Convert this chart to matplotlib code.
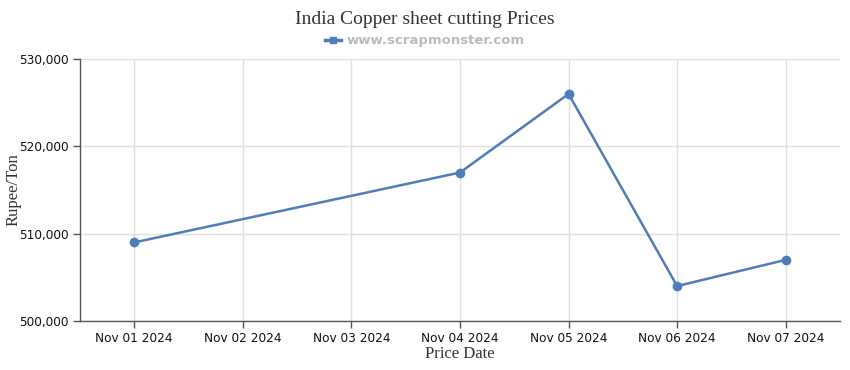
import datetime as dt

import matplotlib
matplotlib.use('Agg')
import matplotlib.dates as mdates
from matplotlib import pyplot as plt
from matplotlib.lines import Line2D
from matplotlib.ticker import FuncFormatter

# Chart data
price_dates = [dt.date(2024, 11, 1), dt.date(2024, 11, 4), dt.date(2024, 11, 5),
               dt.date(2024, 11, 6), dt.date(2024, 11, 7)]
prices = [509000, 517000, 526000, 504000, 507000]
tick_dates = [dt.date(2024, 11, d) for d in range(1, 8)]
y_ticks = [500000, 510000, 520000, 530000]

line_color = '#4f7dba'
axis_color = '#555555'

fig = plt.figure(figsize=(8.5, 3.7), dpi=100, facecolor='white')
ax = fig.add_axes([80 / 850, 49 / 370, 760 / 850, 262 / 370])

ax.plot(price_dates, prices, color=line_color, linewidth=1.8,
        marker='o', markersize=6, zorder=3)

# Axes range and ticks
ax.set_xlim(mdates.date2num(dt.date(2024, 11, 1)) - 0.5,
            mdates.date2num(dt.date(2024, 11, 7)) + 0.5)
ax.set_ylim(500000, 530000)
ax.set_xticks(tick_dates)
ax.xaxis.set_major_formatter(mdates.DateFormatter('%b %d %Y'))
ax.set_yticks(y_ticks)
ax.yaxis.set_major_formatter(FuncFormatter(lambda v, _: f'{int(v):,}'))
ax.tick_params(axis='both', labelsize=8.7, colors='#111111', length=5,
               width=1, direction='out', pad=3)
ax.tick_params(axis='both', color=axis_color)

ax.grid(True, color='#e0e0e0', linewidth=1)
ax.set_axisbelow(True)
for side in ['top', 'right']:
    ax.spines[side].set_visible(False)
for side in ['left', 'bottom']:
    ax.spines[side].set_color(axis_color)
    ax.spines[side].set_linewidth(1)

ax.set_xlabel('Price Date', family='Liberation Serif', fontsize=12,
              color='#333333', labelpad=1)
ax.set_ylabel('Rupee/Ton', family='Liberation Serif', fontsize=12,
              color='#333333')
ax.yaxis.set_label_coords(-58 / 760, 0.5)

fig.text(0.5, 0.948, 'India Copper sheet cutting Prices', ha='center', va='center',
         family='Liberation Serif', fontsize=14, color='#333333')

# Legend with source name
handle = Line2D([], [], color=line_color, linewidth=2.5, marker='s', markersize=5)
fig.legend([handle], ['www.scrapmonster.com'], loc='center', bbox_to_anchor=(0.5, 0.890),
           frameon=False, handlelength=1.2, handletextpad=0.4,
           prop={'size': 9.5, 'weight': 'bold', 'family': 'DejaVu Sans'},
           labelcolor='#bbbbbb')

plt.savefig('out.png', dpi=100, facecolor='white')
plt.close()
